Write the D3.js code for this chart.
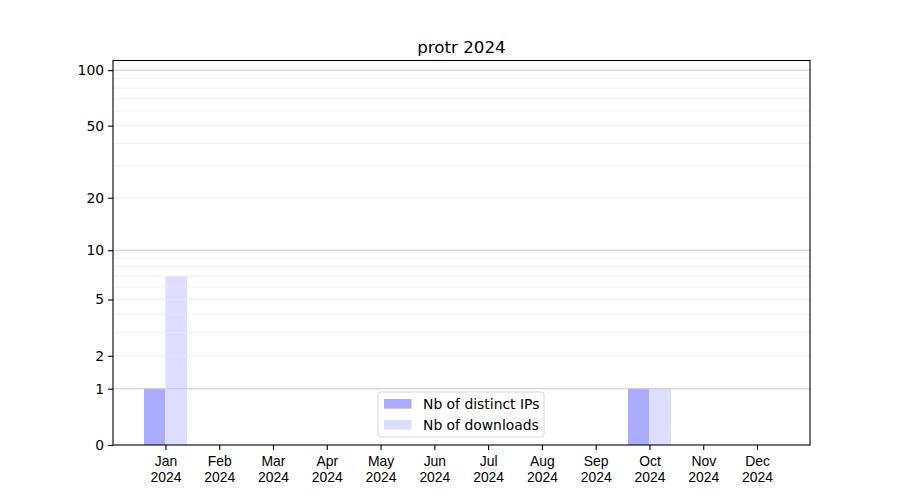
<!DOCTYPE html>
<html><head><meta charset="utf-8">
<script src="https://cdn.jsdelivr.net/npm/d3@7"></script>
<style>body{margin:0;background:#fff}svg{font-family:"DejaVu Sans",sans-serif}</style>
</head><body><svg id="c" width="900" height="500"></svg>
<script>
const months = ["Jan","Feb","Mar","Apr","May","Jun","Jul","Aug","Sep","Oct","Nov","Dec"];
const year = "2024";
const distinctIPs = [1,0,0,0,0,0,0,0,0,1,0,0];
const downloads = [7,0,0,0,0,0,0,0,0,1,0,0];
const yTicks = [0,1,2,5,10,20,50,100];
const majorGrid = [1,10,100];
const minorGrid = [2,3,4,5,6,7,8,9,20,30,40,50,60,70,80,90];
const title = "protr 2024";
const seriesNames = ["Nb of distinct IPs","Nb of downloads"];
const colors = ["#aaaaff","#ddddff"];

const svg = d3.select("#c");
const L=113, R=810, T=60.5, B=445;
const x = d3.scaleLinear().domain([-0.975, 11.985]).range([L,R]);
const f = v => Math.log10(1+v);
const yT = d3.scaleLinear().domain([0, 2.056]).range([B,T]);
const y = v => yT(f(v));
const bw = x(0.4)-x(0);

const g = svg.append("g");
// bars
months.forEach((m,i)=>{
  g.append("rect").attr("x", x(i)-bw).attr("width", bw)
    .attr("y", y(distinctIPs[i])).attr("height", B - y(distinctIPs[i])).attr("fill", colors[0]);
  g.append("rect").attr("x", x(i)).attr("width", bw)
    .attr("y", y(downloads[i])).attr("height", B - y(downloads[i])).attr("fill", colors[1]);
});
// grid
minorGrid.forEach(v=>g.append("line").attr("x1",L).attr("x2",R).attr("y1",y(v)).attr("y2",y(v))
  .attr("stroke","#ebebeb").attr("stroke-width",0.8));
majorGrid.forEach(v=>g.append("line").attr("x1",L).attr("x2",R).attr("y1",y(v)).attr("y2",y(v))
  .attr("stroke","#cccccc").attr("stroke-width",1));

// y axis
const yAxis = d3.axisLeft(yT).tickValues(yTicks.map(f)).tickFormat((d,i)=>yTicks[i]).tickSize(4.9).tickPadding(4);
const ya = svg.append("g").attr("transform",`translate(${L},0)`).call(yAxis);
ya.select(".domain").remove();
ya.selectAll("text").attr("font-size",13.9).attr("fill","#000").attr("font-family","DejaVu Sans");
ya.selectAll("line").attr("stroke","#000").attr("stroke-width",1.1);

// x axis
const xAxis = d3.axisBottom(x).tickValues(d3.range(12)).tickFormat(()=>"").tickSize(4.9);
const xa = svg.append("g").attr("transform",`translate(0,${B})`).call(xAxis);
xa.select(".domain").remove();
xa.selectAll("line").attr("stroke","#000").attr("stroke-width",1.1);
xa.selectAll(".tick").each(function(d){
  const t = d3.select(this).append("text").attr("fill","#000").attr("font-size",13.9).attr("text-anchor","middle");
  t.append("tspan").attr("x",0).attr("y",21).text(months[d]);
  t.append("tspan").attr("x",0).attr("y",37).text(year);
});

// frame
svg.append("rect").attr("x",L).attr("y",T).attr("width",R-L).attr("height",B-T)
  .attr("fill","none").attr("stroke","#000").attr("stroke-width",1.1);

// title
svg.append("text").attr("x",(L+R)/2).attr("y",T-8).attr("text-anchor","middle")
  .attr("font-size",16.7).attr("fill","#000").text(title);

// legend
const lg = svg.append("g").attr("transform","translate(378,392)");
lg.append("rect").attr("width",166).attr("height",45).attr("rx",3)
  .attr("fill","#fff").attr("fill-opacity",0.8).attr("stroke","#d6d6d6").attr("stroke-width",1);
seriesNames.forEach((s,i)=>{
  lg.append("rect").attr("x",6).attr("y",7+i*21).attr("width",27.5).attr("height",9.7).attr("fill",colors[i]);
  lg.append("text").attr("x",45).attr("y",17+i*21).attr("font-size",13.9).attr("fill","#000").text(s);
});
</script></body></html>
